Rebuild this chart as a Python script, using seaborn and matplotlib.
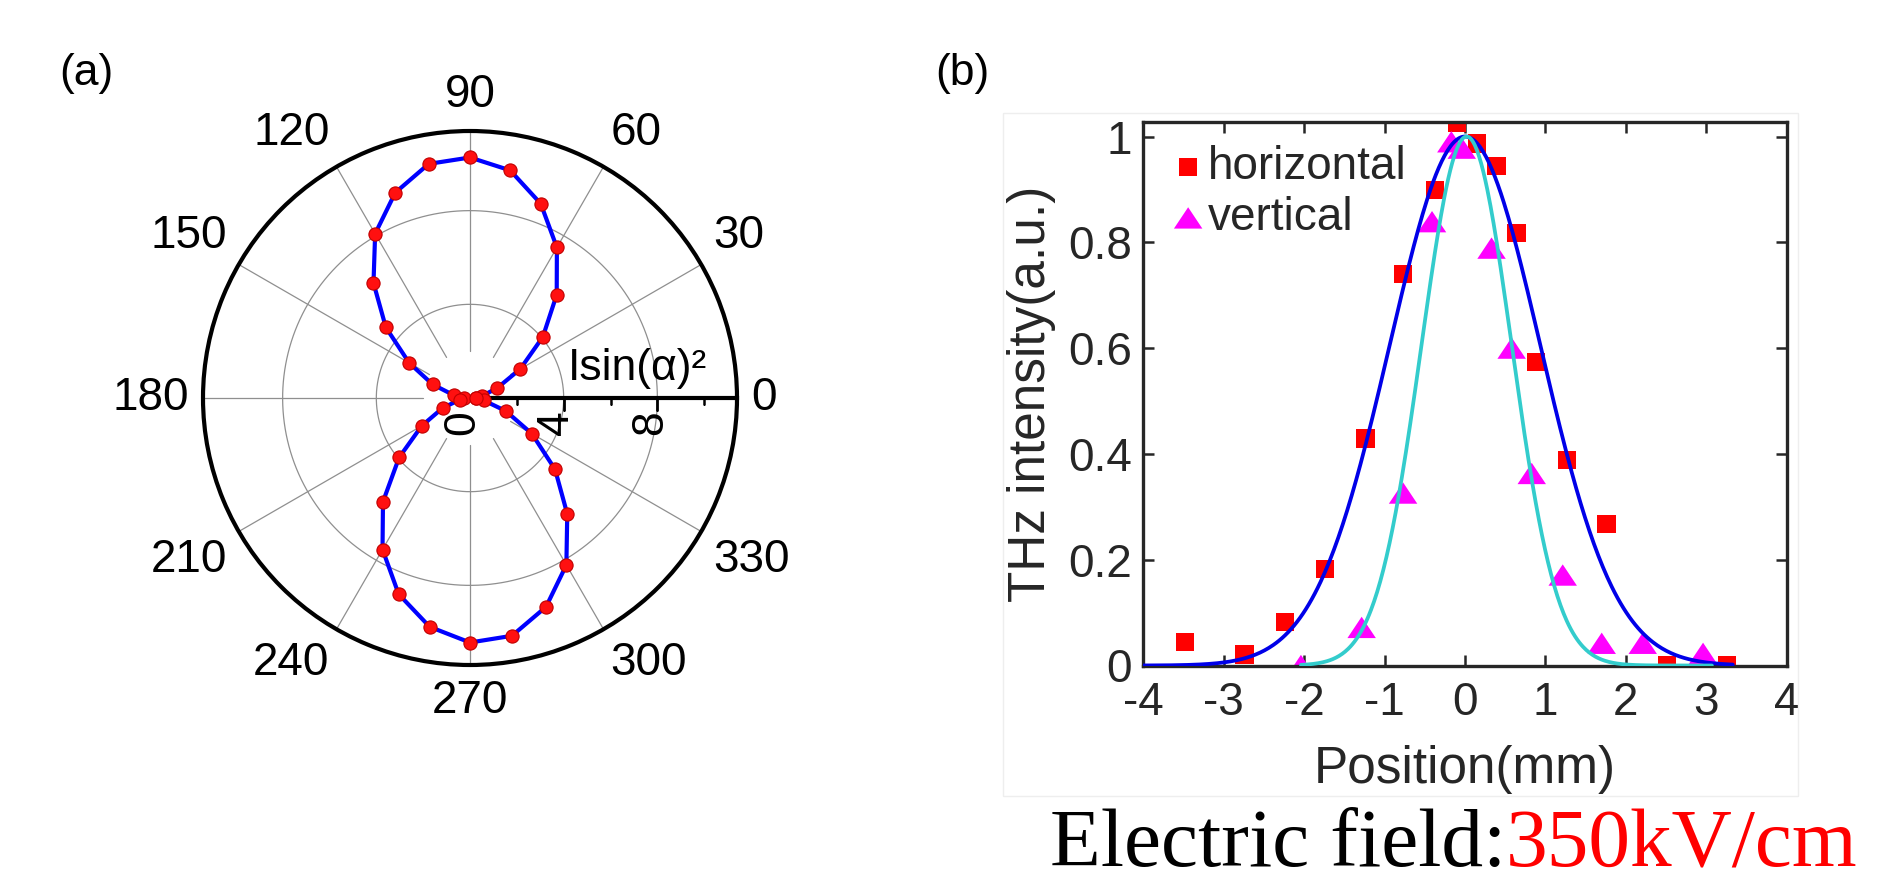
import numpy as np
import matplotlib
matplotlib.use("Agg")
import matplotlib.pyplot as plt
from matplotlib.patches import Rectangle
import seaborn as sns

# ---- (a) polar scan: polariser angle (deg) and measured THz signal
angle_deg = [0, 10, 20, 30, 40, 50, 60, 70, 80, 90, 100, 110, 120, 130, 140, 150, 160, 170,
             180, 190, 200, 210, 220, 230, 240, 250, 260, 270, 280, 290, 300, 310, 320, 330, 340, 350]
signal = [0.24, 0.53, 1.23, 2.48, 4.06, 5.76, 7.42, 8.83, 9.87, 10.27, 10.15, 9.33, 8.10, 6.41,
          4.69, 3.00, 1.70, 0.71, 0.26, 0.45, 1.24, 2.38, 3.95, 5.78, 7.47, 8.91, 9.92, 10.44,
          10.31, 9.49, 8.23, 6.46, 4.74, 3.05, 1.63, 0.60]
r_max = 11.4
r_rings = [4, 8]
r_labels = ["0", "4", "8"]
theta_label_deg = [0, 30, 60, 90, 120, 150, 180, 210, 240, 270, 300, 330]

# ---- (b) beam profile
h_pos = [-3.48, -2.74, -2.24, -1.74, -1.235, -0.77, -0.37, -0.10, 0.15, 0.39, 0.64, 0.88,
         1.27, 1.76, 2.51, 3.26]
h_int = [0.044, 0.021, 0.082, 0.182, 0.429, 0.74, 0.899, 1.025, 0.987, 0.944, 0.818, 0.574,
         0.388, 0.267, 0.0, 0.0]
v_pos = [-2.04, -1.285, -0.77, -0.41, -0.17, -0.04, 0.33, 0.58, 0.83, 1.215, 1.70, 2.21, 2.96]
v_int = [0.0, 0.072, 0.326, 0.839, 0.99, 0.978, 0.789, 0.600, 0.363, 0.171, 0.042, 0.042, 0.023]

# gaussian fits: centre, sigma, x start, x end
h_fit = (0.0, 0.935, -4.0, 3.33)
v_fit = (0.02, 0.56, -2.04, 3.07)

x_ticks = [-4, -3, -2, -1, 0, 1, 2, 3, 4]
y_ticks = [0, 0.2, 0.4, 0.6, 0.8, 1]
y_ticklabels = ["0", "0.2", "0.4", "0.6", "0.8", "1"]

sns.set_theme(style="white")
plt.rcParams["font.family"] = ["Liberation Sans", "DejaVu Sans"]
plt.rcParams["axes.unicode_minus"] = False

W, H = 1891, 893
fig = plt.figure(figsize=(W / 100, H / 100), dpi=100)
fig.patch.set_facecolor("white")

# ================= (a) polar =================
ax = fig.add_axes([203 / W, 1 - 665 / H, 534 / W, 534 / H], projection="polar")
ax.set_facecolor("white")
ax.set_ylim(0, r_max)
ax.grid(False)
ax.set_yticks([])
ax.set_xticks(np.deg2rad(np.arange(0, 360, 30)))
ax.set_xticks(np.deg2rad(np.arange(15, 360, 30)), minor=True)
ax.set_xticklabels([])
ax.tick_params(axis="x", which="major", direction="in", length=9, width=2.2, color="black")
ax.tick_params(axis="x", which="minor", direction="in", length=5, width=1.8, color="black")
ax.spines["polar"].set_linewidth(3)
ax.spines["polar"].set_color("black")

ring_theta = np.linspace(0, 2 * np.pi, 400)
for rr in r_rings:
    ax.plot(ring_theta, np.full_like(ring_theta, rr), color="#8f8f8f", lw=0.9, zorder=1)
for d in theta_label_deg[1:]:
    ax.plot([np.deg2rad(d)] * 2, [2, r_max], color="#8f8f8f", lw=0.9, zorder=1)

# radial axis along 0 deg
ax.plot([0, 0], [0.7, r_max], color="black", lw=3, zorder=2.5, solid_capstyle="butt")
ax.plot([0, 0], [4, 8], ls="none", marker=3, ms=9, mew=2, color="black", zorder=2.5)
ax.plot([0, 0, 0], [2, 6, 10], ls="none", marker=3, ms=5, mew=1.8, color="black", zorder=2.5)
for lab in r_labels:
    ax.annotate(lab, xy=(0, float(lab)), xytext=(-5, -9), textcoords="offset points",
                rotation=90, ha="center", va="top", fontsize=32, color="black")
ax.annotate("Isin(α)²", xy=(0, 4.2), xytext=(0, 13), textcoords="offset points",
            ha="left", va="baseline", fontsize=32, color="black")

# angle labels outside the circle
for d in theta_label_deg:
    t = np.deg2rad(d)
    c, s = np.cos(t), np.sin(t)
    ha = "left" if c > 0.3 else ("right" if c < -0.3 else "center")
    va = "bottom" if s > 0.3 else ("top" if s < -0.3 else "center")
    ax.annotate(str(d), xy=(t, r_max), xytext=(10 * c, 10 * s), textcoords="offset points",
                ha=ha, va=va, fontsize=33, color="black", annotation_clip=False)

th = np.deg2rad(angle_deg + angle_deg[:1])
rr = signal + signal[:1]
ax.plot(th, rr, color="#0000ff", lw=3, zorder=3)
ax.plot(th, rr, ls="none", marker="o", ms=9.5, mfc="#ff1010", mec="#c00000", mew=0.8, zorder=4)

# ================= (b) profile =================
fig.add_artist(Rectangle((1003 / W, 1 - 796 / H), 795 / W, 683 / H, transform=fig.transFigure,
                         fill=False, ec="#eeeeee", lw=1))
ax2 = fig.add_axes([1143.3 / W, 1 - 665.5 / H, 643.4 / W, 543.8 / H])

tri = [(-1, -0.75), (1, -0.75), (0, 0.75), (-1, -0.75)]
sns.scatterplot(x=h_pos, y=h_int, marker="s", s=175, color="red", edgecolor="none",
                linewidth=0, label="horizontal", ax=ax2, zorder=2)
sns.scatterplot(x=v_pos, y=v_int, marker=tri, s=420, color="magenta", edgecolor="none",
                linewidth=0, label="vertical", ax=ax2, zorder=2)

for (c0, sig, x0, x1), col in [(h_fit, "#0000e8"), (v_fit, "#33cccc")]:
    xf = np.linspace(x0, x1, 400)
    yf = np.exp(-(xf - c0) ** 2 / (2 * sig ** 2))
    sns.lineplot(x=xf, y=yf, color=col, lw=2.7, ax=ax2, legend=False, zorder=3)

ax2.set_xlim(-4, 4)
ax2.set_ylim(0, 1.028)
ax2.set_xticks(x_ticks)
ax2.set_xticklabels([str(v) for v in x_ticks])
ax2.set_yticks(y_ticks)
ax2.set_yticklabels(y_ticklabels)
ax2.tick_params(direction="in", length=8, width=1.8, top=True, right=True, bottom=True, left=True,
                colors="#262626", labelsize=33)
ax2.tick_params(axis="x", pad=11)
ax2.tick_params(axis="y", pad=8)
for sp in ax2.spines.values():
    sp.set_linewidth(2.4)
    sp.set_color("#262626")
    sp.set_visible(True)
ax2.set_xlabel("Position(mm)", fontsize=37, color="#262626")
ax2.set_ylabel("THz intensity(a.u.)", fontsize=37, color="#262626")
ax2.xaxis.set_label_coords(0.5, -0.146)
ax2.yaxis.set_label_coords(-0.135, 0.5)

ax2.legend(loc="upper left", bbox_to_anchor=(0.012, 1.0), frameon=False, fontsize=33,
           handlelength=0.6, handletextpad=0.12, labelspacing=0.15, borderaxespad=0.31,
           borderpad=0.2)

# panel letters
fig.text(86 / W, 1 - 74 / H, "(a)", fontsize=32, ha="center", va="center", color="black")
fig.text(962 / W, 1 - 74 / H, "(b)", fontsize=32, ha="center", va="center", color="black")

# caption line in serif
t1 = fig.text(1050 / W, 1 - 866 / H, "Electric field:", fontsize=60, color="black",
              family=["Liberation Serif", "DejaVu Serif"], ha="left", va="baseline")
ax2.annotate("350kV/cm", xy=(1, 0), xycoords=t1, ha="left", va="bottom", fontsize=60,
             color="red", family=["Liberation Serif", "DejaVu Serif"], annotation_clip=False)

fig.savefig("out.png", dpi=100)
